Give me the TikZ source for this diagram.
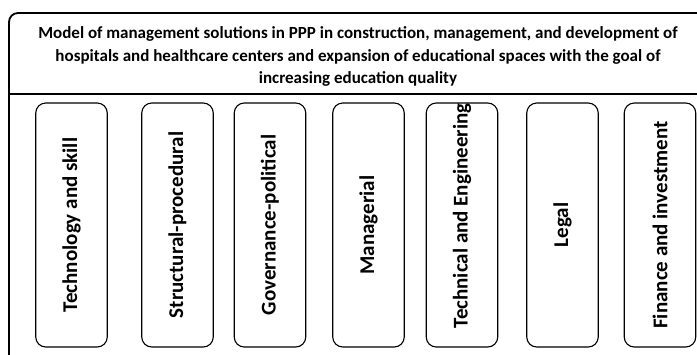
\documentclass[tikz,border=0pt]{standalone}
\usepackage{fontspec}
\setmainfont{Carlito}
\usepackage{tikz}
\usetikzlibrary{positioning}

\begin{document}
\begin{tikzpicture}[x=1pt, y=-1pt, font=\bfseries\fontsize{17}{22.5}\selectfont,
  pillar/.style={draw, line width=1.1pt, rounded corners=10pt, rotate=90,
                 minimum width=244pt, minimum height=71.5pt, inner sep=0pt,
                 font=\bfseries\fontsize{21}{24}\selectfont}]

\useasboundingbox (0,0) rectangle (697,354);
\clip (0,0) rectangle (697,354);

% outer frame and header line
\draw[line width=1.8pt, rounded corners=9pt] (9,13) rectangle (720,380);
\draw[line width=1.8pt] (9,94) -- (720,94);

\node[align=center] (title) at (358,56.5) {Model of management solutions in PPP in construction, management, and development of\\
hospitals and healthcare centers and expansion of educational spaces with the goal of\\
increasing education quality};

% solution groups
\node[pillar] (tech)    at (71.5,225)  {Technology and skill};
\node[pillar] (struct)  at (177.5,225) {Structural-procedural};
\node[pillar] (gov)     at (270,225)   {Governance-political};
\node[pillar] (manag)   at (368.5,225) {Managerial};
\node[pillar] (eng)     at (462,225)   {};
\node[rotate=90, font=\bfseries\fontsize{21}{24}\selectfont] (englab) at (462,216) {Technical and Engineering};
\node[pillar] (legal)   at (562.5,225) {Legal};
\node[pillar] (finance) at (660,225)   {Finance and investment};

\end{tikzpicture}
\end{document}
